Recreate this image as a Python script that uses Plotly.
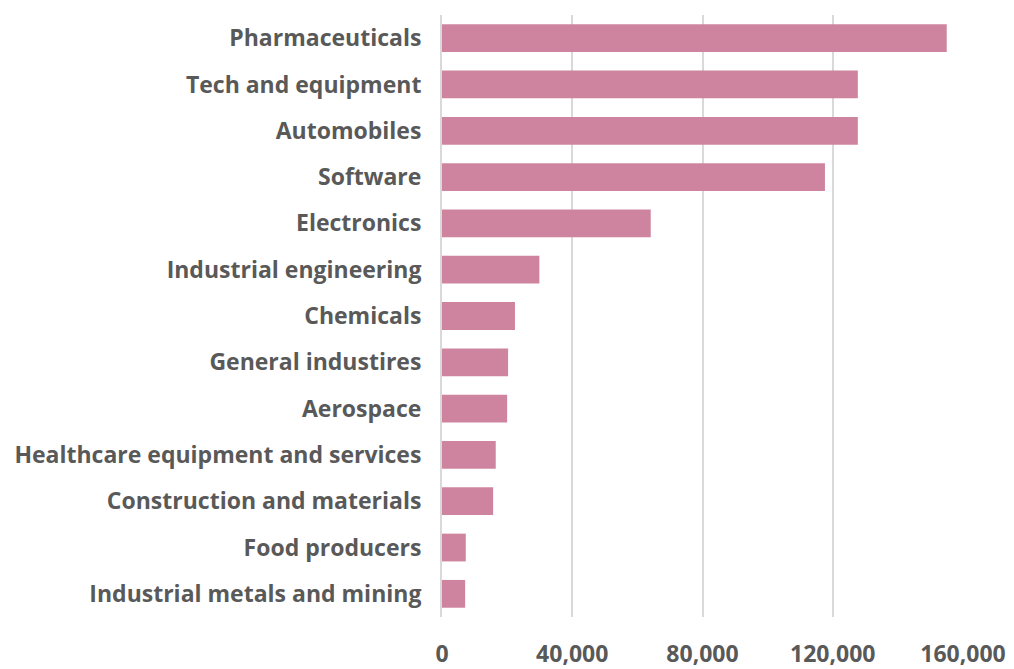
import plotly.graph_objects as go

categories = [
    "Pharmaceuticals",
    "Tech and equipment",
    "Automobiles",
    "Software",
    "Electronics",
    "Industrial engineering",
    "Chemicals",
    "General industires",
    "Aerospace",
    "Healthcare equipment and services",
    "Construction and materials",
    "Food producers",
    "Industrial metals and mining",
]
values = [155000, 127700, 127700, 117600, 64100, 29900, 22400, 20300, 20000, 16500, 15700, 7300, 7100]
tick_vals = [0, 40000, 80000, 120000, 160000]
tick_text = ["0", "40,000", "80,000", "120,000", "160,000"]

FONT = "Open Sans"
TXT = "#595959"

fig = go.Figure(go.Bar(
    x=values, y=categories, orientation="h",
    marker=dict(color="#CE849E", line=dict(width=0)),
))
fig.update_layout(
    width=1014, height=669,
    margin=dict(l=442, r=51, t=15, b=52),
    paper_bgcolor="white", plot_bgcolor="white",
    bargap=0.4,
    showlegend=False,
    font=dict(family=FONT, color=TXT, size=23),
)
fig.update_xaxes(
    range=[0, 160000], tickvals=tick_vals, ticktext=tick_text,
    showgrid=True, gridcolor="#D9D9D9", gridwidth=2,
    zeroline=False, showline=False, ticks="",
    tickfont=dict(family=FONT, size=23, color=TXT, weight="bold"),
    ticklabelstandoff=21, automargin=False, fixedrange=True,
)
fig.update_yaxes(
    autorange="reversed", showgrid=False, zeroline=False,
    showline=True, linecolor="#D9D9D9", linewidth=2, ticks="",
    tickfont=dict(family=FONT, size=23, color=TXT, weight="bold"),
    ticklabelstandoff=14, automargin=False, fixedrange=True,
)
fig.write_html("out.html", config={"displayModeBar": False},
               post_script="document.body.style.margin='0';document.body.style.padding='0';")
